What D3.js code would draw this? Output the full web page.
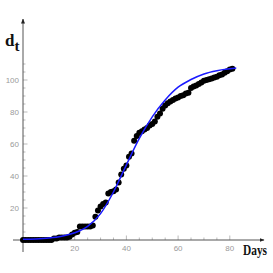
<!DOCTYPE html>
<html>
<head>
<meta charset="utf-8">
<script src="https://cdn.jsdelivr.net/npm/d3@7"></script>
<style>
	body { margin: 0; background: #fff; }
	svg { display: block; }
	.tick-label { font-family: "Liberation Sans", sans-serif; font-size: 8px; fill: #9a9a9a; }
	.axis-title { font-family: "Liberation Serif", serif; font-weight: bold; fill: #111; }
</style>
</head>
<body>
<div id="chart"></div>
<script>
// observed cases, one per day
var days = [0,1,2,3,4,5,6,7,8,9,10,11,12,13,14,15,16,17,18,19,20,
	21,22,23,24,25,26,27,28,29,30,31,32,33,34,35,36,37,38,39,40,
	41,42,43,44,45,46,47,48,49,50,51,52,53,54,55,56,57,58,59,60,
	61,62,63,64,65,66,67,68,69,70,71,72,73,74,75,76,77,78,79,80,81];
var cases = [0,0,0,0,0,0,0,0,0,0,0,0,1,1,1.5,1.5,1.5,1.5,2,3.5,4.5,
	5,8.5,8.5,8.5,8.5,8.5,9,14.5,18.5,21,22.5,23.5,29,30,30.5,31.5,36,41,44.5,46.5,
	52,54,62,65,67,68,69,70,71.5,72.5,74,77,79,82,84,85.5,86.5,87.5,88.5,89,
	90,90.5,91.5,92,95,96,96.5,97.5,98.5,99.5,100,100.5,101,101.5,102,103,103.5,104.5,105.5,106.5,107];

// fitted curve
var fitDays = [0,5,10,15,20,25,30,35,40,45,50,55,60,65,70,75,80,82.5];
var fitVals = [0.5,0.7,1.2,2.3,4.5,8.5,16.5,30,47,63.5,77,87.5,95.5,100.3,103.8,105.8,107,107.5];

var xTicks = [20,40,60,80];
var yTicks = [20,40,60,80,100];

var width = 273, height = 273;

var svg = d3.select("#chart").append("svg")
		.attr("width", width)
		.attr("height", height);

var x = d3.scaleLinear().domain([0, 80]).range([23, 229.8]);
var y = d3.scaleLinear().domain([0, 100]).range([240, 80]);

var axisColor = "#555",
	tickColor = "#aaa";

// minor + major ticks
var xMinor = d3.range(5, 81, 5).filter(function(d){ return d % 20 != 0; });
var yMinor = d3.range(5, 111, 5).filter(function(d){ return d % 20 != 0; });

svg.selectAll(".xminor").data(xMinor).enter().append("line")
		.attr("x1", function(d){ return x(d); }).attr("x2", function(d){ return x(d); })
		.attr("y1", y(0)).attr("y2", y(0) - 2.5)
		.attr("stroke", tickColor).attr("stroke-width", 0.8);

svg.selectAll(".xmajor").data(xTicks).enter().append("line")
		.attr("x1", function(d){ return x(d); }).attr("x2", function(d){ return x(d); })
		.attr("y1", y(0)).attr("y2", y(0) - 4.5)
		.attr("stroke", tickColor).attr("stroke-width", 0.8);

svg.selectAll(".yminor").data(yMinor).enter().append("line")
		.attr("y1", function(d){ return y(d); }).attr("y2", function(d){ return y(d); })
		.attr("x1", x(0)).attr("x2", x(0) + 2.5)
		.attr("stroke", tickColor).attr("stroke-width", 0.8);

svg.selectAll(".ymajor").data(yTicks).enter().append("line")
		.attr("y1", function(d){ return y(d); }).attr("y2", function(d){ return y(d); })
		.attr("x1", x(0)).attr("x2", x(0) + 4.5)
		.attr("stroke", tickColor).attr("stroke-width", 0.8);

// axes lines with arrows
svg.append("defs").append("marker")
		.attr("id", "arrow")
		.attr("viewBox", "0 0 10 10")
		.attr("refX", 9).attr("refY", 5)
		.attr("markerWidth", 5).attr("markerHeight", 5)
		.attr("orient", "auto")
	.append("path")
		.attr("d", "M0,1 L10,5 L0,9 Z")
		.attr("fill", "#222");

svg.append("line")
		.attr("x1", 13).attr("x2", 264)
		.attr("y1", y(0)).attr("y2", y(0))
		.attr("stroke", axisColor).attr("stroke-width", 1)
		.attr("marker-end", "url(#arrow)");

svg.append("line")
		.attr("x1", x(0)).attr("x2", x(0))
		.attr("y1", 252).attr("y2", 19)
		.attr("stroke", axisColor).attr("stroke-width", 1)
		.attr("marker-end", "url(#arrow)");

// tick labels
svg.selectAll(".xlabel").data(xTicks).enter().append("text")
		.attr("class", "tick-label")
		.attr("x", function(d){ return x(d); })
		.attr("y", 251)
		.attr("text-anchor", "middle")
		.text(function(d){ return d; });

svg.selectAll(".ylabel").data(yTicks).enter().append("text")
		.attr("class", "tick-label")
		.attr("x", 19)
		.attr("y", function(d){ return y(d) + 3; })
		.attr("text-anchor", "end")
		.text(function(d){ return d; });

// data points
var points = days.map(function(d, i){ return {day: d, val: cases[i]}; });

svg.selectAll(".dot").data(points).enter().append("circle")
		.attr("class", "dot")
		.attr("cx", function(d){ return x(d.day); })
		.attr("cy", function(d){ return y(d.val); })
		.attr("r", 3)
		.attr("fill", "#000");

// fit line
var fit = fitDays.map(function(d, i){ return [d, fitVals[i]]; });

svg.append("path")
		.datum(fit)
		.attr("d", d3.line()
			.x(function(d){ return x(d[0]); })
			.y(function(d){ return y(d[1]); })
			.curve(d3.curveMonotoneX))
		.attr("fill", "none")
		.attr("stroke", "#1a1aff")
		.attr("stroke-width", 1.5);

// axis titles
var dt = svg.append("text")
		.attr("class", "axis-title")
		.attr("x", 5)
		.attr("y", 46)
		.attr("font-size", 17);
dt.append("tspan").text("d");
dt.append("tspan").attr("font-size", 15).attr("dy", 5).text("t");

svg.append("text")
		.attr("class", "axis-title")
		.attr("x", 243)
		.attr("y", 255)
		.attr("font-size", 14)
		.attr("textLength", 24)
		.attr("lengthAdjust", "spacingAndGlyphs")
		.text("Days");
</script>
</body>
</html>
